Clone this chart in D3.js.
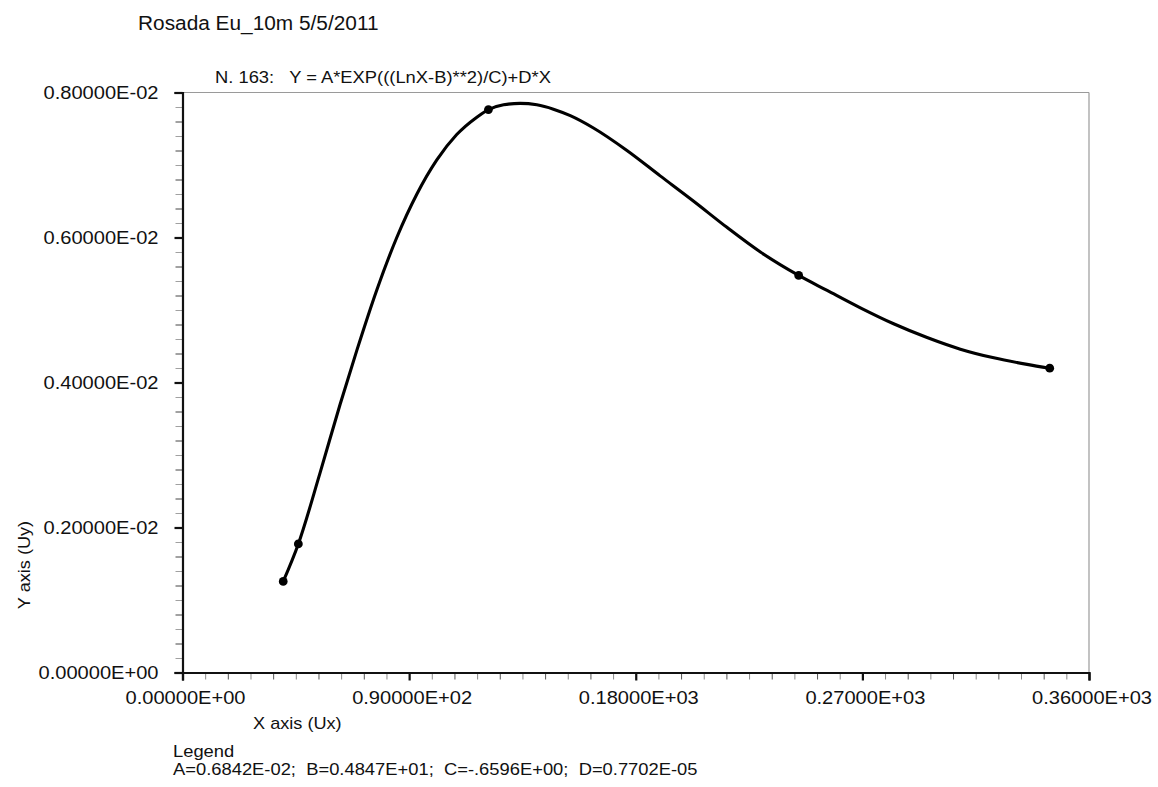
<!DOCTYPE html>
<html>
<head>
<meta charset="utf-8">
<script src="https://cdn.jsdelivr.net/npm/d3@7"></script>
<style>
  html, body { margin: 0; padding: 0; background: #fff; }
  svg { display: block; }
  text { font-family: "Liberation Sans", Arial, sans-serif; fill: #111; white-space: pre; }
</style>
</head>
<body>
<svg id="chart" width="1158" height="787"></svg>
<script>
// ---------- data ----------
const titleText = "Rosada Eu_10m 5/5/2011";
const subtitleText = "N. 163:   Y = A*EXP(((LnX-B)**2)/C)+D*X";
const xAxisTitle = "X axis (Ux)";
const yAxisTitle = "Y axis (Uy)";
const legendTitle = "Legend";
const legendText = "A=0.6842E-02;  B=0.4847E+01;  C=-.6596E+00;  D=0.7702E-05";

const xTickValues = [0, 90, 180, 270, 360];
const xTickLabels = ["0.00000E+00", "0.90000E+02", "0.18000E+03", "0.27000E+03", "0.36000E+03"];
const yTickValues = [0, 0.002, 0.004, 0.006, 0.008];
const yTickLabels = ["0.00000E+00", "0.20000E-02", "0.40000E-02", "0.60000E-02", "0.80000E-02"];

// observed points
const pointX = [40.0, 46.0, 121.5, 244.7, 344.4];
const pointY = [0.001256, 0.001773, 0.007765, 0.005477, 0.004197];

// fitted curve
const curveX = [40.0, 46.0, 54.6, 62.6, 69.2, 77.2, 85.1, 93.1, 101.0, 108.9, 116.9, 121.5, 127.5, 134.1, 140.7, 147.3, 154.0, 163.2, 176.5, 189.7, 203.0, 216.2, 229.5, 244.7, 256.0, 269.2, 282.4, 295.7, 308.9, 322.2, 335.4, 344.4];
const curveY = [0.001256, 0.001773, 0.00275, 0.00370, 0.00444, 0.00528, 0.00600, 0.00660, 0.00707, 0.00742, 0.00766, 0.007765, 0.00783, 0.00785, 0.00783, 0.00777, 0.00768, 0.00751, 0.00720, 0.00685, 0.00650, 0.00614, 0.00580, 0.005477, 0.00527, 0.00503, 0.00481, 0.00462, 0.00446, 0.00434, 0.00425, 0.004197];

// ---------- layout ----------
const svg = d3.select("#chart");
const L = 182.5, R = 1089, T = 92.5, B = 672.5;
const SX = 1.08; // horizontal text stretch of the original

const x = d3.scaleLinear().domain([0, 360]).range([L, R]);
const y = d3.scaleLinear().domain([0, 0.008]).range([B, T]);

function txt(parent, px, py, s, size, anchor, extra) {
  return parent.append("text")
    .attr("transform", `translate(${px},${py}) scale(${SX},1)` + (extra || ""))
    .attr("font-size", size)
    .attr("text-anchor", anchor || "start")
    .text(s);
}

// frame (top & right) light gray
svg.append("line").attr("x1", x(0)).attr("x2", x(360)).attr("y1", y(0.008)).attr("y2", y(0.008))
  .attr("stroke", "#9a9a9a").attr("stroke-width", 1.2);
svg.append("line").attr("x1", x(360)).attr("x2", x(360)).attr("y1", y(0)).attr("y2", y(0.008))
  .attr("stroke", "#9a9a9a").attr("stroke-width", 1.2);

// minor ticks x
const xMinor = d3.range(0, 361, 9);
const gxm = svg.append("g").attr("transform", `translate(0,${B})`)
  .call(d3.axisBottom(x).tickValues(xMinor).tickSize(7).tickFormat(""));
gxm.select(".domain").remove();
gxm.selectAll(".tick line").attr("stroke", (d, i) => (i % 2 === 0 ? "#555" : "#8a8a8a")).attr("stroke-width", 1);

// major ticks x
const gx = svg.append("g").attr("transform", `translate(0,${B})`)
  .call(d3.axisBottom(x).tickValues(xTickValues).tickSize(8).tickFormat(""));
gx.select(".domain").attr("stroke", "#111").attr("stroke-width", 2.2);
gx.selectAll(".tick line").attr("stroke", "#111").attr("stroke-width", 2.2);

// minor ticks y
const yMinor = d3.range(0, 41).map(i => i * 0.0002);
const gym = svg.append("g").attr("transform", `translate(${L},0)`)
  .call(d3.axisLeft(y).tickValues(yMinor).tickSize(7).tickFormat(""));
gym.select(".domain").remove();
gym.selectAll(".tick line").attr("stroke", (d, i) => (i % 2 === 0 ? "#444" : "#a0a0a0")).attr("stroke-width", 1);

// major ticks y
const gy = svg.append("g").attr("transform", `translate(${L},0)`)
  .call(d3.axisLeft(y).tickValues(yTickValues).tickSize(8).tickFormat(""));
gy.select(".domain").attr("stroke", "#111").attr("stroke-width", 2.2);
gy.selectAll(".tick line").attr("stroke", "#111").attr("stroke-width", 2.2);

// tick labels
yTickValues.forEach((v, i) => {
  txt(svg, 158.5, y(v) + 6.7, yTickLabels[i], 18.6, "end");
});
xTickValues.forEach((v, i) => {
  txt(svg, x(v) + 3, 704, xTickLabels[i], 18.6, "middle");
});

// curve
const line = d3.line().x(d => x(d[0])).y(d => y(d[1])).curve(d3.curveMonotoneX);
svg.append("path")
  .datum(curveX.map((v, i) => [v, curveY[i]]))
  .attr("d", line)
  .attr("fill", "none").attr("stroke", "#000").attr("stroke-width", 3.1)
  .attr("stroke-linejoin", "round").attr("stroke-linecap", "round");

// points
svg.append("g").selectAll("circle")
  .data(pointX.map((v, i) => [v, pointY[i]]))
  .join("circle")
  .attr("cx", d => x(d[0])).attr("cy", d => y(d[1])).attr("r", 4.4).attr("fill", "#000");

// titles
txt(svg, 138, 29.5, titleText, 19.3, "start");
txt(svg, 215, 82.5, subtitleText, 17, "start");

// axis titles
txt(svg, 253, 729, xAxisTitle, 16.8, "start");
svg.append("text")
  .attr("transform", `translate(30,565) rotate(-90) scale(${SX},1)`)
  .attr("font-size", 16.8).attr("text-anchor", "middle").text(yAxisTitle);

// legend
txt(svg, 173, 757, legendTitle, 17, "start");
txt(svg, 173, 775, legendText, 17, "start");
</script>
</body>
</html>
